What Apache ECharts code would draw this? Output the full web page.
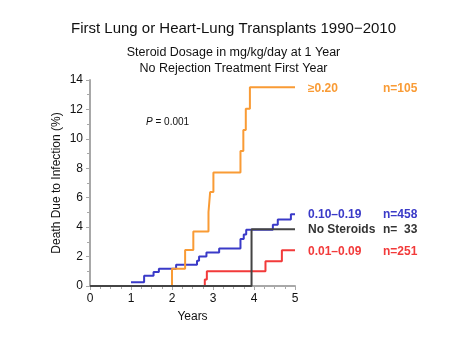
<!DOCTYPE html>
<html><head><meta charset="utf-8">
<script src="https://cdn.jsdelivr.net/npm/echarts@6/dist/echarts.min.js"></script>
<style>html,body{margin:0;padding:0;background:#fff}#c{width:467px;height:340px}</style>
</head><body><div id="c"></div>
<script>
// Data (years, cumulative % death due to infection)
const orangeX = [0, 2.0, 2.32, 2.52, 2.89, 2.93, 3.01, 3.67, 3.74, 3.80, 3.90, 5.0];
const orangeY = [0, 1.18, 2.45, 3.7, 5.03, 6.38, 7.72, 9.17, 10.6, 12.05, 13.5, 13.5];
const blueX = [1.0, 1.32, 1.55, 1.68, 2.1, 2.61, 2.66, 2.84, 3.15, 3.67, 3.75, 3.81, 4.46, 4.58, 4.9, 5.0];
const blueY = [0.25, 0.7, 0.95, 1.18, 1.45, 1.72, 2.0, 2.27, 2.55, 3.2, 3.5, 3.82, 4.17, 4.52, 4.88, 4.88];
const blackX = [0, 3.94, 5.0];
const blackY = [0, 3.85, 3.85];
const redX = [0, 2.80, 2.85, 4.28, 4.68, 5.0];
const redY = [0, 0.45, 1.0, 1.68, 2.43, 2.43];
const groupLabels = ['≥0.20', '0.10–0.19', 'No Steroids', '0.01–0.09'];
const groupN = ['n=105', 'n=458', 'n=  33', 'n=251'];
const xTicks = [0, 1, 2, 3, 4, 5];
const yTicks = [0, 2, 4, 6, 8, 10, 12, 14];

const colors = { orange: '#F99B35', blue: '#3A3AC8', black: '#444444', red: '#F23A3A' };
const zip = (xs, ys) => xs.map((x, i) => [x, ys[i]]);
const font = 'Liberation Sans, Arial, Helvetica, sans-serif';

const chart = echarts.init(document.getElementById('c'), null, { renderer: 'canvas' });
const axisGray = '#a8a8a8';
function mkSeries(name, data, color, z) {
  return { name, type: 'line', step: 'end', data, showSymbol: false, symbol: 'none',
    lineStyle: { color, width: 2 }, z, animation: false };
}
chart.setOption({
  animation: false,
  textStyle: { fontFamily: font },
  title: [
    { text: 'First Lung or Heart-Lung Transplants 1990\u22122010', left: 'center', top: 16,
      textStyle: { fontSize: 15, fontWeight: 'normal', color: '#111', fontFamily: font } },
    { text: 'Steroid Dosage in mg/kg/day at 1 Year\nNo Rejection Treatment First Year', left: 'center', top: 40,
      textStyle: { fontSize: 12.5, fontWeight: 'normal', color: '#111', lineHeight: 16, fontFamily: font } }
  ],
  grid: { left: 90, right: 172, top: 80, bottom: 54 },
  xAxis: {
    type: 'value', min: 0, max: 5, interval: 1,
    name: 'Years', nameLocation: 'middle', nameGap: 25,
    nameTextStyle: { fontSize: 12, color: '#111', fontFamily: font },
    axisLine: { show: true, lineStyle: { color: axisGray, width: 2 } },
    axisTick: { show: true, length: 4, lineStyle: { color: axisGray } },
    minorTick: { show: true, splitNumber: 4, length: 3, lineStyle: { color: axisGray } },
    splitLine: { show: false },
    axisLabel: { fontSize: 12, color: '#111', margin: 7, formatter: v => xTicks.includes(v) ? String(v) : '' }
  },
  yAxis: {
    type: 'value', min: 0, max: 14, interval: 2,
    name: 'Death Due to Infection (%)', nameLocation: 'middle', nameGap: 27,
    nameTextStyle: { fontSize: 12, color: '#111', fontFamily: font },
    axisLine: { show: true, lineStyle: { color: axisGray, width: 2 } },
    axisTick: { show: true, length: 4, lineStyle: { color: axisGray } },
    minorTick: { show: true, splitNumber: 2, length: 3, lineStyle: { color: axisGray } },
    splitLine: { show: false },
    axisLabel: { fontSize: 12, color: '#111', margin: 7, formatter: v => yTicks.includes(v) ? String(v) : '' }
  },
  series: [
    mkSeries('0.10–0.19', zip(blueX, blueY), colors.blue, 2),
    mkSeries('≥0.20', zip(orangeX, orangeY), colors.orange, 3),
    mkSeries('0.01–0.09', zip(redX, redY), colors.red, 4),
    mkSeries('No Steroids', zip(blackX, blackY), colors.black, 5)
  ],
  graphic: [
    { type: 'text', left: 146, top: 117, style: { text: '{i|P} = 0.001', fill: '#111', font: '10px ' + font,
      rich: { i: { fontStyle: 'italic', fontSize: 10, fontFamily: font } } } },
    { type: 'text', left: 308, top: 83, style: { text: groupLabels[0], fill: colors.orange, font: 'bold 12px ' + font } },
    { type: 'text', left: 383, top: 83, style: { text: groupN[0], fill: colors.orange, font: 'bold 12px ' + font } },
    { type: 'text', left: 308, top: 209, style: { text: groupLabels[1], fill: colors.blue, font: 'bold 12px ' + font } },
    { type: 'text', left: 383, top: 209, style: { text: groupN[1], fill: colors.blue, font: 'bold 12px ' + font } },
    { type: 'text', left: 308, top: 224, style: { text: groupLabels[2], fill: '#333', font: 'bold 12px ' + font } },
    { type: 'text', left: 383, top: 224, style: { text: groupN[2], fill: '#333', font: 'bold 12px ' + font, whiteSpace: 'pre' } },
    { type: 'text', left: 308, top: 246, style: { text: groupLabels[3], fill: colors.red, font: 'bold 12px ' + font } },
    { type: 'text', left: 383, top: 246, style: { text: groupN[3], fill: colors.red, font: 'bold 12px ' + font } }
  ]
});
</script></body></html>
